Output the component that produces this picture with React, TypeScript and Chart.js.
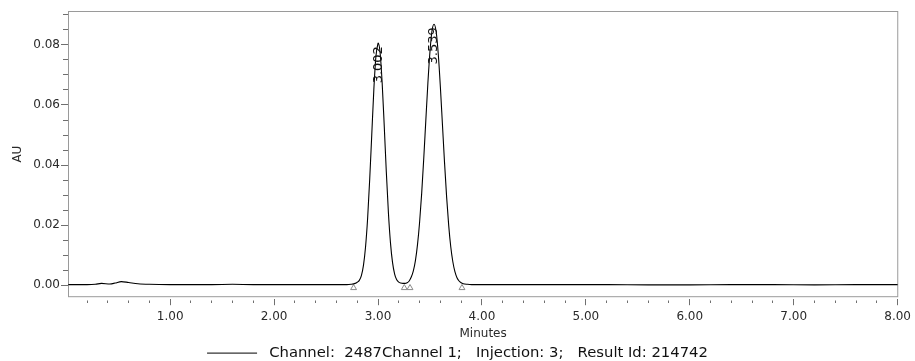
import React, { useEffect, useRef } from 'react';
import { Chart, registerables } from 'chart.js';

Chart.register(...registerables);

// Retention time (minutes) and absorbance (AU) of the trace
const minutes = [
  0.02, 0.1, 0.2, 0.28, 0.34, 0.42, 0.47, 0.53, 0.6, 0.69, 0.8, 1.0, 1.2, 1.4, 1.6, 1.8, 2.0, 2.2, 2.4, 2.6,
  2.7, 2.74, 2.78, 2.8, 2.82, 2.84, 2.86, 2.88, 2.9, 2.92, 2.94, 2.96, 2.98, 3.0, 3.002, 3.02, 3.04, 3.06,
  3.08, 3.1, 3.12, 3.14, 3.16, 3.18, 3.2, 3.22, 3.24, 3.26, 3.28, 3.3, 3.32, 3.34, 3.36, 3.38, 3.4, 3.42,
  3.44, 3.46, 3.48, 3.5, 3.52, 3.539, 3.56, 3.58, 3.6, 3.62, 3.64, 3.66, 3.68, 3.7, 3.72, 3.74, 3.76, 3.78,
  3.8, 3.82, 3.86, 3.9, 4.0, 4.4, 4.8, 5.2, 5.6, 6.0, 6.4, 6.8, 7.2, 7.6, 8.0,
];
const au = [
  0.0002, 0.0002, 0.0002, 0.0003, 0.0006, 0.0004, 0.0007, 0.0012, 0.0009, 0.0005, 0.0003, 0.0002, 0.0002, 0.0002, 0.0003, 0.0002, 0.0002, 0.0002, 0.0002, 0.0002,
  0.0002, 0.0003, 0.0006, 0.001, 0.0016, 0.0032, 0.0066, 0.0127, 0.0222, 0.0352, 0.0502, 0.0652, 0.0762, 0.0805, 0.0806, 0.0775, 0.0673, 0.053,
  0.0377, 0.0242, 0.0141, 0.0075, 0.0037, 0.0018, 0.001, 0.0007, 0.0006, 0.0006, 0.0008, 0.0014, 0.0027, 0.0048, 0.0082, 0.0135, 0.0209, 0.0305,
  0.0421, 0.0548, 0.0673, 0.0778, 0.0848, 0.0869, 0.0843, 0.0769, 0.0661, 0.0535, 0.0409, 0.0295, 0.02, 0.0128, 0.0078, 0.0045, 0.0025, 0.0014,
  0.0008, 0.0005, 0.0003, 0.0002, 0.0002, 0.0002, 0.0002, 0.0002, 0.0001, 0.0001, 0.0002, 0.0002, 0.0001, 0.0002, 0.0002,
];

// Integration start/end markers
const eventMinutes = [2.765, 3.253, 3.308, 3.808];
const eventAU = [-0.0009, -0.0009, -0.0009, -0.0009];

// Peak apex annotations
const peakMinutes = [3.002, 3.539];
const peakAU = [0.0806, 0.0869];
const peakLabels = ['3.002', '3.539'];

const legendLabel = ' Channel:  2487Channel 1;   Injection: 3;   Result Id: 214742';
const xTitle = 'Minutes';
const yTitle = 'AU';
const xMin = 0.017;
const xMax = 8.006;
const yMin = -0.004;
const yMax = 0.0913;
const xStep = 0.2;
const xMajor = 1;
const yStep = 0.005;
const yMajor = 0.02;

const isMultiple = (v: number, m: number) => Math.abs(v / m - Math.round(v / m)) < 1e-6;

const framePlugin = {
  id: 'frame',
  beforeDatasetsDraw(chart: any) {
    const { ctx, chartArea } = chart;
    ctx.save();
    ctx.strokeStyle = '#9a9a9a';
    ctx.lineWidth = 1;
    ctx.strokeRect(
      chartArea.left + 0.5,
      chartArea.top + 0.5,
      chartArea.right - chartArea.left - 1,
      chartArea.bottom - chartArea.top - 1
    );
    ctx.restore();
  },
};

const peakLabelPlugin = {
  id: 'peakLabels',
  afterDatasetsDraw(chart: any) {
    const { ctx, scales } = chart;
    const x = scales.x;
    const y = scales.y;
    ctx.save();
    ctx.font = '13px "DejaVu Sans"';
    ctx.fillStyle = '#111';
    ctx.textAlign = 'right';
    ctx.textBaseline = 'middle';
    peakMinutes.forEach((t, i) => {
      const px = x.getPixelForValue(t);
      const py = y.getPixelForValue(peakAU[i]);
      ctx.save();
      ctx.translate(px, py + 3);
      ctx.rotate(-Math.PI / 2);
      ctx.fillText(peakLabels[i], 0, 0);
      ctx.restore();
    });
    ctx.restore();
  },
};

export default function App() {
  const ref = useRef<HTMLCanvasElement | null>(null);

  useEffect(() => {
    if (!ref.current) return;
    Chart.defaults.font.family = '"DejaVu Sans", sans-serif';
    const chart = new Chart(ref.current, {
      type: 'line',
      data: {
        datasets: [
          {
            label: legendLabel,
            data: minutes.map((t, i) => ({ x: t, y: au[i] })),
            borderColor: '#000',
            borderWidth: 1.1,
            pointRadius: 0,
            pointBorderColor: '#000',
            pointBorderWidth: 1,
            cubicInterpolationMode: 'monotone',
            fill: false,
          },
          {
            label: 'events',
            type: 'scatter',
            data: eventMinutes.map((t, i) => ({ x: t, y: eventAU[i] })),
            pointStyle: 'triangle',
            pointRadius: 3.4,
            borderColor: '#8a8a8a',
            backgroundColor: 'rgba(255,255,255,0)',
            borderWidth: 1,
            showLine: false,
          } as any,
        ],
      },
      options: {
        responsive: false,
        animation: false,
        layout: { padding: { left: 15, right: 15, top: 11, bottom: -9.5 } },
        plugins: {
          tooltip: { enabled: false },
          legend: {
            position: 'bottom',
            align: 'center',
            labels: {
              usePointStyle: true,
              pointStyle: 'line',
              pointStyleWidth: 50,
              padding: 0,
              color: '#111',
              font: { size: 14.8 },
              filter: (item: any) => item.datasetIndex === 0,
            },
          },
        },
        scales: {
          x: {
            type: 'linear',
            min: xMin,
            max: xMax,
            border: { display: true, width: 4, color: 'rgba(0,0,0,0)' },
            grid: {
              drawOnChartArea: false,
              drawTicks: true,
              tickLength: 8,
              tickWidth: 1,
              tickColor: '#6f6f6f',
              tickBorderDash: (c: any) => (c.tick && isMultiple(c.tick.value, xMajor) ? [] : [2.5, 100]),
              tickBorderDashOffset: (c: any) => (c.tick && isMultiple(c.tick.value, xMajor) ? 0 : -1.5),
            },
            ticks: {
              stepSize: xStep,
              includeBounds: false,
              autoSkip: false,
              maxRotation: 0,
              minRotation: 0,
              padding: 4,
              color: '#2a2a2a',
              font: { size: 12 },
              callback: (v: any) => (isMultiple(Number(v), xMajor) && Number(v) > 0 ? Number(v).toFixed(2) : ''),
            },
            title: {
              display: true,
              text: xTitle,
              color: '#2a2a2a',
              font: { size: 12 },
              padding: { top: 0, bottom: 5 },
            },
            afterFit: (s: any) => {
              s.height = 48.5;
            },
          },
          y: {
            type: 'linear',
            min: yMin,
            max: yMax,
            border: { display: false },
            grid: {
              drawOnChartArea: false,
              drawTicks: true,
              tickLength: 7,
              tickWidth: 1,
              tickColor: '#6f6f6f',
              tickBorderDash: (c: any) => (c.tick && isMultiple(c.tick.value, yMajor) ? [] : [5, 100]),
              tickBorderDashOffset: (c: any) => (c.tick && isMultiple(c.tick.value, yMajor) ? 0 : -2),
            },
            ticks: {
              stepSize: yStep,
              includeBounds: false,
              autoSkip: false,
              padding: 1,
              color: '#2a2a2a',
              font: { size: 12 },
              callback: (v: any) => (isMultiple(Number(v), yMajor) ? Number(v).toFixed(2) : ''),
            },
            title: {
              display: true,
              text: yTitle,
              color: '#2a2a2a',
              font: { size: 12 },
              padding: { top: -4.2, bottom: 0 },
            },
            afterFit: (s: any) => {
              s.width = 53;
            },
          },
        },
      } as any,
      plugins: [framePlugin, peakLabelPlugin],
    });
    return () => chart.destroy();
  }, []);

  return (
    <div style={{ position: 'absolute', left: 0, top: 0, width: 915, height: 361, background: '#fff' }}>
      <canvas ref={ref} width={915} height={361} style={{ display: 'block' }} />
    </div>
  );
}
